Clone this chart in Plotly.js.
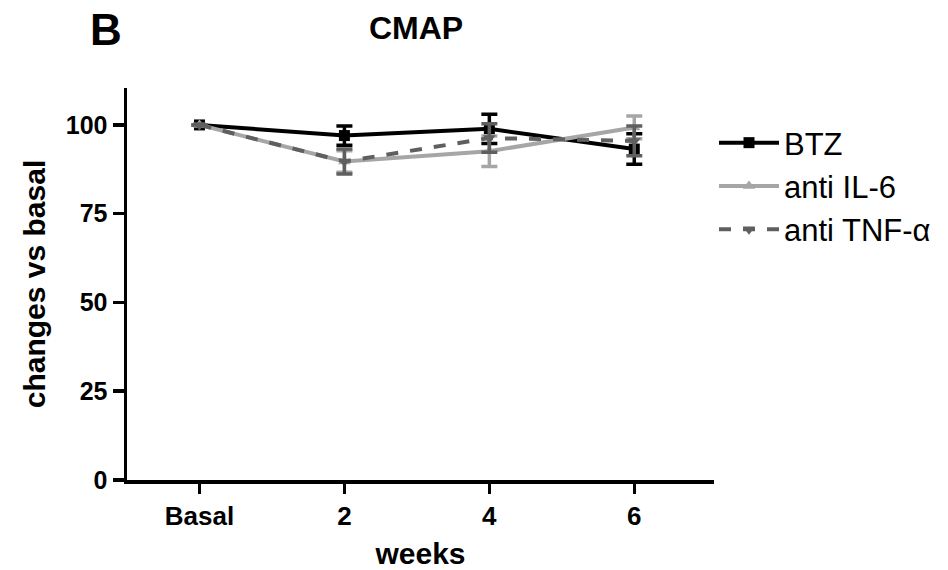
<!DOCTYPE html>
<html><head><meta charset="utf-8">
<script src="https://cdn.plot.ly/plotly-3.0.1.min.js"></script>
<style>html,body{margin:0;padding:0;background:#fff;}#chart{width:948px;height:570px;}</style>
</head><body><div id="chart"></div>
<script>
const xPos = [0, 1, 2, 3];
const xLabels = ["Basal", "2", "4", "6"];
const seriesNames = ["BTZ", "anti IL-6", "anti TNF-\u03b1"];
const btz = [100, 97.0, 98.9, 93.2];
const btzErr = [0, 2.7, 4.1, 4.3];
const il6 = [100, 89.7, 92.6, 99.3];
const il6Err = [0, 3.0, 4.3, 3.2];
const tnf = [100, 89.7, 96.3, 95.5];
const tnfErr = [0, 3.5, 4.0, 4.2];

const colors = ["#000000", "#a6a6a6", "#5f5f5f"];
const symbols = ["square", "triangle-up", "triangle-down"];
const dashes = ["solid", "solid", "dash"];
const vals = [btz, il6, tnf];
const errs = [btzErr, il6Err, tnfErr];

const traces = seriesNames.map((n, i) => ({
  x: xPos, y: vals[i], name: n, type: "scatter", mode: "lines+markers",
  legendgroup: "g" + i,
  line: {color: colors[i], width: 4, dash: dashes[i]},
  marker: {color: colors[i], symbol: symbols[i], size: 11},
  error_y: {type: "data", array: errs[i], visible: true, color: colors[i], thickness: 3.5, width: 8}
}));

const bold = {family: "Liberation Sans, Arial, sans-serif", color: "#000", weight: "bold"};

const layout = {
  width: 948, height: 570,
  margin: {l: 127, r: 232, t: 88, b: 90},
  paper_bgcolor: "#fff", plot_bgcolor: "#fff",
  font: {family: "Liberation Sans, Arial, sans-serif", color: "#000"},
  title: {text: "CMAP", font: Object.assign({}, bold, {size: 32}), x: 416/948, xanchor: "center", y: 1 - 28/570, yanchor: "middle"},
  xaxis: {
    range: [-0.5, 3.55], tickvals: xPos, ticktext: xLabels,
    showgrid: false, zeroline: false, showline: true, linecolor: "#000", linewidth: 3.5,
    ticks: "outside", ticklen: 10, tickwidth: 3.5, tickcolor: "#000",
    tickfont: Object.assign({}, bold, {size: 26}),
    title: {text: "weeks", font: Object.assign({}, bold, {size: 30}), standoff: 18}
  },
  yaxis: {
    range: [0, 110.4], tickvals: [0, 25, 50, 75, 100],
    showgrid: false, zeroline: false, showline: true, linecolor: "#000", linewidth: 3.5,
    ticks: "outside", ticklen: 11, tickwidth: 3.5, tickcolor: "#000",
    tickfont: Object.assign({}, bold, {size: 25}),
    title: {text: "changes vs basal", font: Object.assign({}, bold, {size: 30}), standoff: 12}
  },
  legend: {
    x: 1.0, xanchor: "left", y: (480 - 116) / 392, yanchor: "top",
    font: {size: 31, color: "#000"}, bgcolor: "rgba(0,0,0,0)",
    traceorder: "grouped", tracegroupgap: 0, itemwidth: 60
  },
  annotations: [{
    text: "B", xref: "paper", yref: "paper", showarrow: false,
    x: (88 - 127) / 589, xanchor: "left", y: (480 - 29) / 392, yanchor: "middle",
    font: Object.assign({}, bold, {size: 44})
  }],
  showlegend: true
};

Plotly.newPlot("chart", traces, layout, {displayModeBar: false, staticPlot: true});
</script></body></html>
